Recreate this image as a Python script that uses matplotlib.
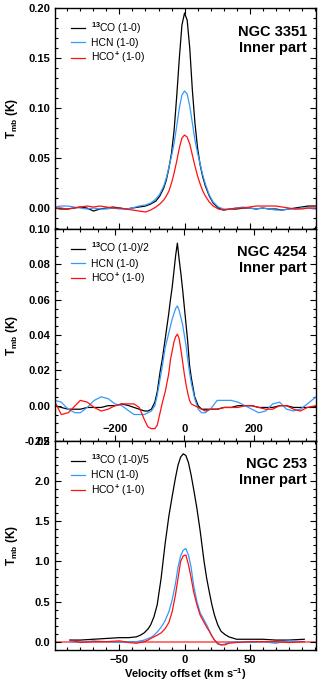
import matplotlib
matplotlib.use("Agg")
import matplotlib.pyplot as plt
from matplotlib.ticker import MultipleLocator

plt.rcParams['font.family'] = 'Liberation Sans'
plt.rcParams['font.weight'] = 'bold'
plt.rcParams['mathtext.fontset'] = 'custom'
plt.rcParams['mathtext.rm'] = 'Liberation Sans'
plt.rcParams['mathtext.bf'] = 'Liberation Sans:bold'

BLACK = 'black'
BLUE = '#3399ff'
RED = '#ff1010'

# NGC 3351
v_3351 = [-100, -95, -90, -85, -80, -75, -70, -65, -60, -55,
          -50, -45, -40, -35, -30, -26, -22, -19, -16, -14,
          -12, -10, -8, -6, -4, -2, 0, 2, 4, 6,
          8, 10, 12, 14, 16, 19, 22, 26, 30, 35,
          40, 45, 50, 55, 60, 65, 70, 75, 80, 85,
          90, 95, 101]
co_3351 = [0.000, -0.001, -0.001, 0.000, 0.001, 0.000, -0.003, -0.001, 0.000, 0.001,
           0.000, -0.001, 0.000, 0.001, 0.002, 0.004, 0.007, 0.012, 0.020, 0.028,
           0.040, 0.055, 0.078, 0.112, 0.150, 0.183, 0.195, 0.188, 0.160, 0.118,
           0.085, 0.060, 0.043, 0.031, 0.022, 0.012, 0.005, 0.000, -0.002, -0.001,
           -0.001, 0.000, 0.000, -0.001, 0.000, -0.001, -0.001, -0.002, -0.001, 0.000,
           0.001, 0.002, 0.002]
hcn_3351 = [0.001, 0.002, 0.002, 0.001, 0.000, -0.001, 0.000, -0.001, -0.001, 0.000,
            -0.001, -0.001, 0.000, 0.002, 0.003, 0.005, 0.009, 0.014, 0.022, 0.030,
            0.041, 0.052, 0.065, 0.082, 0.100, 0.113, 0.117, 0.114, 0.102, 0.085,
            0.068, 0.055, 0.044, 0.033, 0.024, 0.013, 0.006, 0.001, -0.001, -0.001,
            0.000, 0.001, 0.000, -0.001, 0.000, -0.001, -0.002, -0.002, -0.001, -0.001,
            0.000, 0.000, -0.001]
hcop_3351 = [0.000, 0.000, -0.001, 0.000, 0.001, 0.002, 0.001, 0.002, 0.001, 0.000,
             0.000, -0.001, -0.002, -0.003, -0.004, -0.002, 0.001, 0.004, 0.008, 0.012,
             0.017, 0.025, 0.035, 0.047, 0.060, 0.070, 0.073, 0.071, 0.064, 0.053,
             0.042, 0.032, 0.024, 0.017, 0.012, 0.006, 0.002, -0.001, -0.002, -0.001,
             0.000, 0.000, 0.001, 0.002, 0.002, 0.002, 0.002, 0.001, 0.000, -0.001,
             -0.001, 0.000, 0.000]

# NGC 4254
v_4254 = [-373, -355, -335, -315, -300, -280, -260, -240, -220, -200,
          -180, -160, -145, -130, -115, -105, -95, -85, -78, -70,
          -63, -55, -50, -45, -40, -35, -30, -25, -20, -15,
          -10, -5, 0, 5, 10, 15, 20, 30, 40, 50,
          60, 75, 95, 115, 135, 155, 175, 195, 215, 235,
          255, 275, 295, 315, 335, 355, 380]
co_4254 = [0.000, -0.001, -0.002, -0.002, -0.002, -0.001, -0.001, -0.001, 0.000, 0.000,
           0.001, 0.000, -0.001, -0.002, -0.003, -0.003, -0.002, 0.002, 0.008, 0.019,
           0.027, 0.038, 0.045, 0.052, 0.060, 0.067, 0.076, 0.085, 0.092, 0.083,
           0.075, 0.066, 0.056, 0.046, 0.036, 0.023, 0.016, 0.005, 0.000, -0.002,
           -0.002, -0.002, -0.002, -0.001, -0.001, 0.000, 0.000, 0.000, -0.001, -0.001,
           -0.001, 0.000, 0.000, -0.001, -0.001, -0.001, -0.001]
hcn_4254 = [0.003, 0.002, -0.002, -0.004, -0.004, -0.001, 0.003, 0.005, 0.004, 0.001,
            0.000, -0.003, -0.005, -0.005, -0.005, -0.004, -0.003, 0.000, 0.006, 0.015,
            0.023, 0.033, 0.037, 0.041, 0.045, 0.049, 0.052, 0.055, 0.0565, 0.054,
            0.050, 0.046, 0.040, 0.034, 0.026, 0.019, 0.013, 0.004, -0.002, -0.004,
            -0.004, -0.002, 0.003, 0.003, 0.003, 0.002, 0.000, -0.002, -0.004, -0.003,
            0.001, 0.002, -0.002, -0.003, -0.002, 0.001, 0.005]
hcop_4254 = [0.002, -0.005, -0.004, 0.000, 0.003, 0.002, -0.001, -0.003, -0.002, 0.000,
             0.001, 0.001, 0.001, -0.001, -0.008, -0.012, -0.013, -0.013, -0.011, -0.004,
             0.002, 0.008, 0.013, 0.018, 0.026, 0.031, 0.036, 0.039, 0.0405, 0.038,
             0.032, 0.025, 0.018, 0.012, 0.007, 0.003, 0.001, 0.000, -0.001, -0.002,
             -0.003, -0.002, -0.002, -0.001, -0.001, -0.001, 0.000, 0.000, -0.001, -0.002,
             -0.002, 0.000, 0.000, -0.002, -0.003, -0.001, 0.000]

# NGC 253
v_253 = [-88, -80, -70, -60, -50, -43, -37, -34, -31, -28,
         -26, -23.5, -21, -18, -15, -12, -9.5, -7, -5, -3,
         -1, 1, 3, 5, 7, 9.5, 12, 15, 17, 19,
         21, 23, 25.5, 28, 31, 34, 40, 50, 60, 70,
         80, 92]
co_253 = [0.02, 0.02, 0.03, 0.04, 0.05, 0.05, 0.06, 0.08, 0.11, 0.16,
          0.21, 0.31, 0.46, 0.79, 1.21, 1.57, 1.81, 2.04, 2.20, 2.30,
          2.34, 2.32, 2.23, 2.08, 1.90, 1.66, 1.38, 1.00, 0.79, 0.62,
          0.46, 0.33, 0.21, 0.13, 0.09, 0.06, 0.03, 0.03, 0.03, 0.02,
          0.02, 0.03]
hcn_253 = [0.00, -0.01, 0.01, 0.00, -0.01, 0.00, 0.00, 0.01, 0.02, 0.04,
           0.05, 0.08, 0.12, 0.18, 0.26, 0.375, 0.52, 0.72, 0.93, 1.07,
           1.14, 1.16, 1.08, 0.93, 0.70, 0.50, 0.36, 0.27, 0.21, 0.14,
           0.07, 0.02, -0.03, -0.04, -0.03, -0.01, 0.00, -0.01, 0.00, -0.02,
           0.01, 0.00]
hcop_253 = [0.02, -0.01, 0.00, 0.00, 0.01, -0.01, -0.02, -0.01, 0.00, 0.02,
            0.04, 0.06, 0.08, 0.11, 0.16, 0.24, 0.375, 0.58, 0.79, 1.00,
            1.07, 1.08, 0.96, 0.80, 0.62, 0.46, 0.33, 0.24, 0.18, 0.13,
            0.07, 0.02, -0.02, -0.04, -0.04, -0.02, -0.01, 0.00, 0.00, 0.00,
            -0.01, 0.00]

panels = [
    ("NGC 3351", v_3351, [co_3351, hcn_3351, hcop_3351],
     ["$^{13}$CO (1-0)", "HCN (1-0)", "HCO$^{+}$ (1-0)"]),
    ("NGC 4254", v_4254, [co_4254, hcn_4254, hcop_4254],
     ["$^{13}$CO (1-0)/2", "HCN (1-0)", "HCO$^{+}$ (1-0)"]),
    ("NGC 253", v_253, [co_253, hcn_253, hcop_253],
     ["$^{13}$CO (1-0)/5", "HCN (1-0)", "HCO$^{+}$ (1-0)"]),
]

fig = plt.figure(figsize=(3.2, 6.81), dpi=100)
boxes = [[0.172, 0.6637, 0.8155, 0.3245],
         [0.172, 0.3524, 0.8155, 0.3113],
         [0.172, 0.0455, 0.8155, 0.3069]]
xlims = [(-99.5, 101), (-373, 380), (-99.5, 101)]
ylims = [(-0.021, 0.20), (-0.02, 0.10), (-0.104, 2.5)]
yticks = [(0.05, 0.01, "%.2f"), (0.02, 0.005, "%.2f"), (0.5, 0.1, "%.1f")]
xmajor = [[-50, 0, 50], [-200, 0, 200], [-50, 0, 50]]
xminor = [10, 50, 10]

for i, (name, vel, spectra, labels) in enumerate(panels):
    ax = fig.add_axes(boxes[i])
    if i == 2:
        ax.axhline(0, color='#ff5a5a', lw=1.2, zorder=1)
    for spec, col, lab in zip(spectra, [BLACK, BLUE, RED], labels):
        ax.plot(vel, spec, color=col, lw=0.9, label=lab)
    ax.set_xlim(*xlims[i])
    ax.set_ylim(*ylims[i])
    ax.set_xticks(xmajor[i])
    ax.xaxis.set_minor_locator(MultipleLocator(xminor[i]))
    ax.yaxis.set_major_locator(MultipleLocator(yticks[i][0]))
    ax.yaxis.set_minor_locator(MultipleLocator(yticks[i][1]))
    ax.yaxis.set_major_formatter(plt.FormatStrFormatter(yticks[i][2]))
    ax.tick_params(which='both', direction='in', top=True, right=True,
                   labelsize=8, width=0.8)
    ax.tick_params(which='major', length=4.5)
    ax.tick_params(which='minor', length=2.5)
    for s in ax.spines.values():
        s.set_linewidth(1.0)
    if i == 0:
        ax.tick_params(axis='x', labelbottom=False)
    if i == 1:
        ax.tick_params(axis='x', pad=-12)
    if i == 2:
        ax.set_xlabel("Velocity offset (km s$^{\\mathbf{-1}}$)", fontsize=8,
                      fontweight='bold', labelpad=1)
    ax.set_ylabel("T$_{\\mathbf{mb}}$ (K)", fontsize=8.5, fontweight='bold')
    ax.yaxis.set_label_coords(-0.135, 0.5)
    ax.text(0.965, 0.925, name + "\nInner part", transform=ax.transAxes,
            ha='right', va='top', fontsize=10.5, fontweight='bold',
            linespacing=1.2)
    ax.legend(loc='upper left', bbox_to_anchor=(0.06, 0.945), frameon=False,
              prop={'weight': 'normal', 'size': 7.5},
              handlelength=1.35, handletextpad=0.6, labelspacing=0.2,
              borderaxespad=0, borderpad=0)

fig.savefig("out.png", dpi=100)
